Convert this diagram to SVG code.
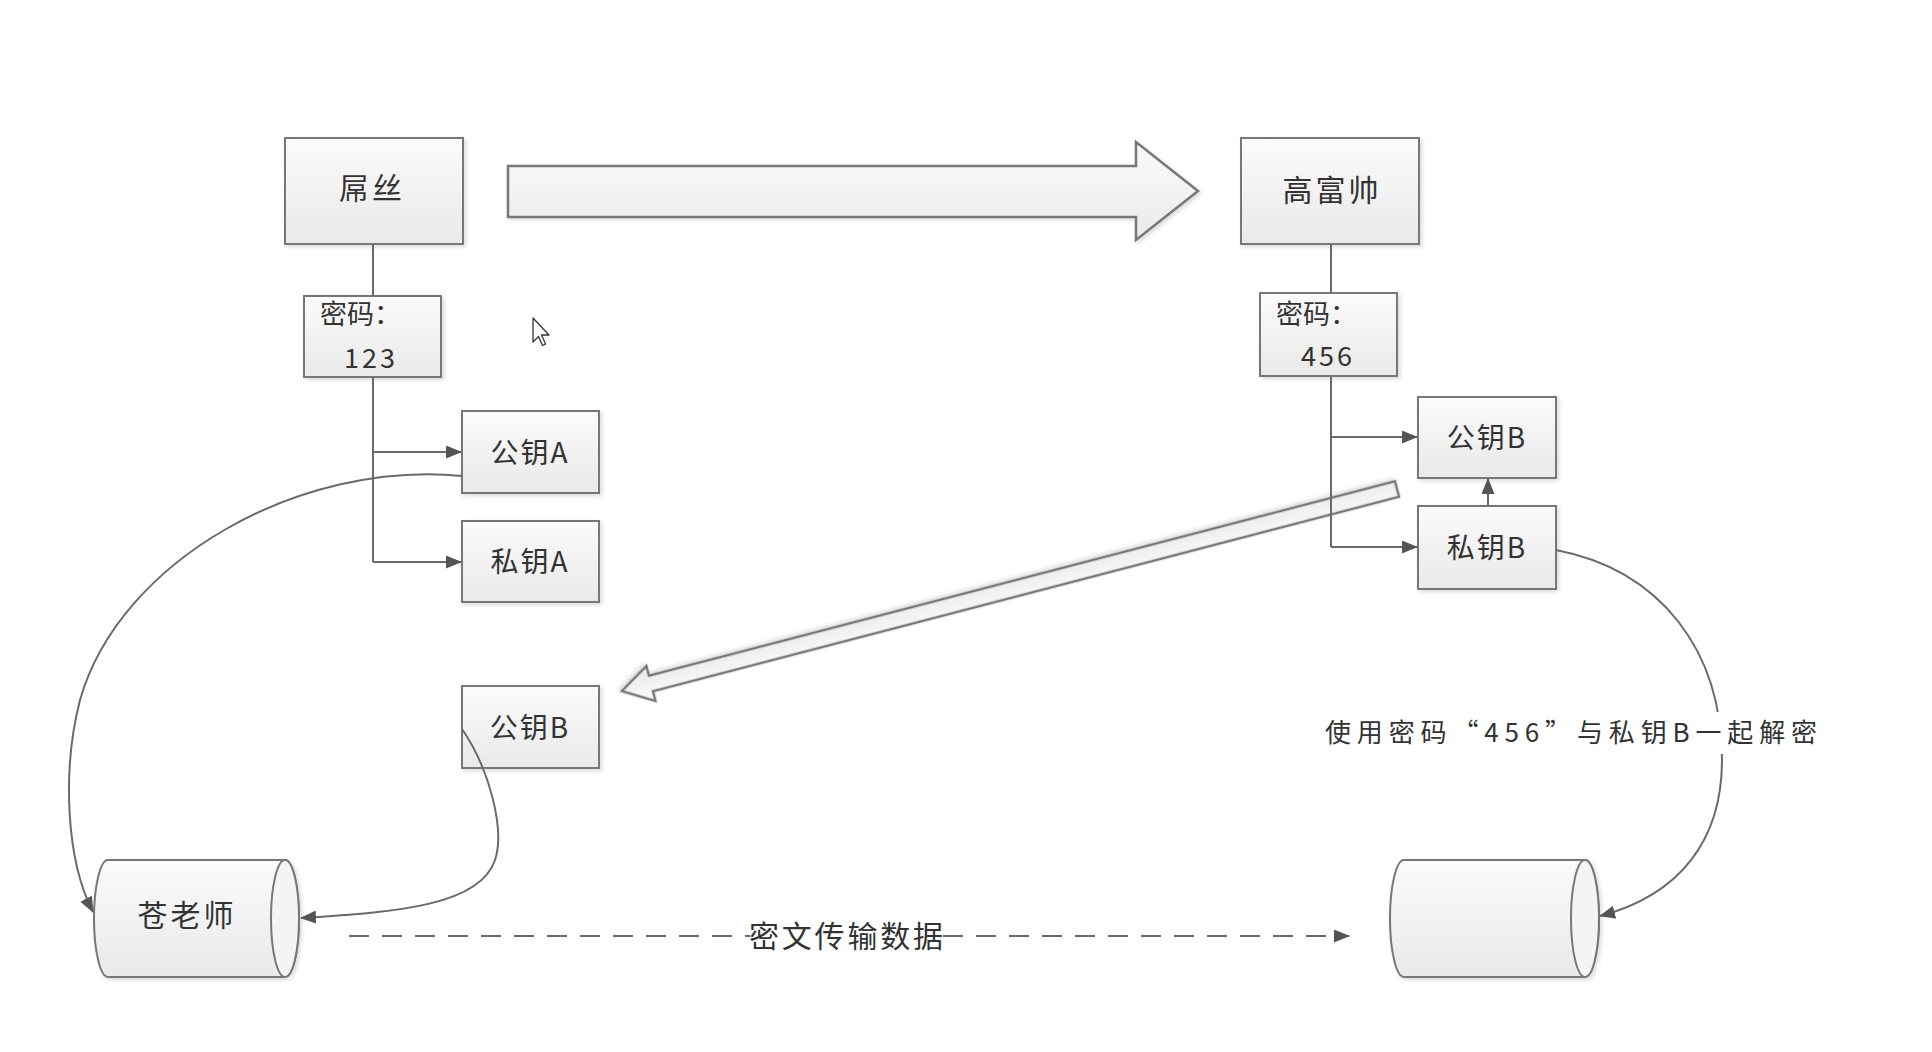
<svg xmlns="http://www.w3.org/2000/svg" width="1932" height="1052" viewBox="0 0 1932 1052">
<defs>
<linearGradient id="gb" x1="0" y1="0" x2="0" y2="1">
<stop offset="0" stop-color="#fbfbfb"/>
<stop offset="1" stop-color="#e9e9e9"/>
</linearGradient>
<filter id="sh" x="-10%" y="-10%" width="130%" height="130%">
<feDropShadow dx="2" dy="2" stdDeviation="2" flood-color="#000" flood-opacity="0.15"/>
</filter>
<marker id="ah" markerUnits="userSpaceOnUse" viewBox="0 0 16 13" refX="15" refY="6.5" markerWidth="16" markerHeight="13" orient="auto">
<path d="M0,0 L16,6.5 L0,13 Z" fill="#555555"/>
</marker>
<style>
.box{fill:url(#gb);stroke:#777777;stroke-width:2;filter:url(#sh)}
.big{fill:url(#gb);stroke:#777777;stroke-width:2.5;filter:url(#sh)}
.t{font-family:"Noto Sans CJK SC","Noto Sans",sans-serif;fill:#333333}
.ln{fill:none;stroke:#6a6a6a;stroke-width:2}
.arr{fill:none;stroke:#6a6a6a;stroke-width:2;marker-end:url(#ah)}
</style>
</defs>
<rect width="1932" height="1052" fill="#ffffff"/>

<g id="bigArrowRight">
<path class="big" d="M508,166 L1136,166 L1136,142 L1198,191 L1136,240 L1136,217 L508,217 Z"/>
</g>
<g id="bigArrowDiag" transform="translate(1397,489) rotate(165.39)">
<path class="big" d="M0,-8 L771,-8 L771,-18 L801,0 L771,18 L771,8 L0,8 Z" stroke-width="2"/>
</g>

<g id="node-diaosi">
<rect class="box" x="285" y="138" width="178" height="106"/>
<text class="t" x="372" y="199" font-size="30" letter-spacing="3" text-anchor="middle">屌丝</text>
</g>
<g id="node-gaofushuai">
<rect class="box" x="1241" y="138" width="178" height="106"/>
<text class="t" x="1332" y="201" font-size="30" letter-spacing="3" text-anchor="middle">高富帅</text>
</g>
<g id="node-pwd123">
<rect class="box" x="304" y="296" width="137" height="81"/>
<text class="t" x="320" y="324" font-size="27">密码：</text>
<text class="t" x="371" y="368" font-size="27" letter-spacing="3" text-anchor="middle">123</text>
</g>
<g id="node-pwd456">
<rect class="box" x="1260" y="293" width="137" height="83"/>
<text class="t" x="1276" y="324" font-size="27">密码：</text>
<text class="t" x="1328" y="366" font-size="27" letter-spacing="3" text-anchor="middle">456</text>
</g>
<g id="node-pubA">
<rect class="box" x="462" y="411" width="137" height="82"/>
<text class="t" x="530" y="463" font-size="28" letter-spacing="2" text-anchor="middle">公钥A</text>
</g>
<g id="node-priA">
<rect class="box" x="462" y="521" width="137" height="81"/>
<text class="t" x="530" y="572" font-size="28" letter-spacing="2" text-anchor="middle">私钥A</text>
</g>
<g id="node-pubB-left">
<rect class="box" x="462" y="686" width="137" height="82"/>
<text class="t" x="530" y="738" font-size="28" letter-spacing="2" text-anchor="middle">公钥B</text>
</g>
<g id="node-pubB">
<rect class="box" x="1418" y="397" width="138" height="81"/>
<text class="t" x="1487" y="448" font-size="28" letter-spacing="2" text-anchor="middle">公钥B</text>
</g>
<g id="node-priB">
<rect class="box" x="1418" y="506" width="138" height="83"/>
<text class="t" x="1487" y="558" font-size="28" letter-spacing="2" text-anchor="middle">私钥B</text>
</g>
<g id="node-canlaoshi">
<path class="box" d="M108,860 L285,860 A14,58.5 0 0 1 285,977 L108,977 A14,58.5 0 0 1 108,860 Z"/>
<ellipse cx="285" cy="918.5" rx="14" ry="58.5" fill="#f4f4f4" stroke="#777777" stroke-width="2"/>
<text class="t" x="187" y="926" font-size="30" letter-spacing="3" text-anchor="middle">苍老师</text>
</g>
<g id="node-receiver">
<path class="box" d="M1404,860 L1585,860 A14,58.5 0 0 1 1585,977 L1404,977 A14,58.5 0 0 1 1404,860 Z"/>
<ellipse cx="1585" cy="918.5" rx="14" ry="58.5" fill="#f4f4f4" stroke="#777777" stroke-width="2"/>
</g>

<g id="connectors">
<path class="ln" d="M373,244 L373,296"/>
<path class="ln" d="M373,377 L373,562"/>
<path class="arr" d="M373,452 L461,452"/>
<path class="arr" d="M373,562 L461,562"/>
<path class="ln" d="M1331,244 L1331,293"/>
<path class="ln" d="M1331,376 L1331,547"/>
<path class="arr" d="M1331,437 L1417,437"/>
<path class="arr" d="M1331,547 L1417,547"/>
<path class="arr" d="M1488,506 L1488,479"/>
<path class="arr" d="M462,476 C300,460 120,560 80,700 C62,770 66,860 93,912"/>
<path class="arr" d="M462,729 C490,770 505,830 495,860 C480,905 400,912 301,918"/>
<path class="arr" d="M1556,550 C1660,570 1722,650 1722,760 C1722,840 1680,895 1600,916"/>
<path class="arr" d="M349,936 L1349,936" stroke-dasharray="20 13" stroke-width="2.4"/>
</g>

<g id="labels">
<rect x="750" y="918" width="192" height="36" fill="#ffffff"/>
<text class="t" x="749" y="947" font-size="30" textLength="194" lengthAdjust="spacing">密文传输数据</text>
<rect x="1320" y="712" width="502" height="42" fill="#ffffff"/>
<text class="t" x="1325" y="742" font-size="26" textLength="492" lengthAdjust="spacing">使用密码“456”与私钥B一起解密</text>
</g>

<g id="cursor" transform="translate(533,318)">
<path d="M0,0 L0,24 L5.5,18.5 L9.5,27.5 L12.5,26 L8.5,17 L16,17 Z" fill="#ffffff" stroke="#333333" stroke-width="1.3" stroke-linejoin="round"/>
</g>
</svg>
